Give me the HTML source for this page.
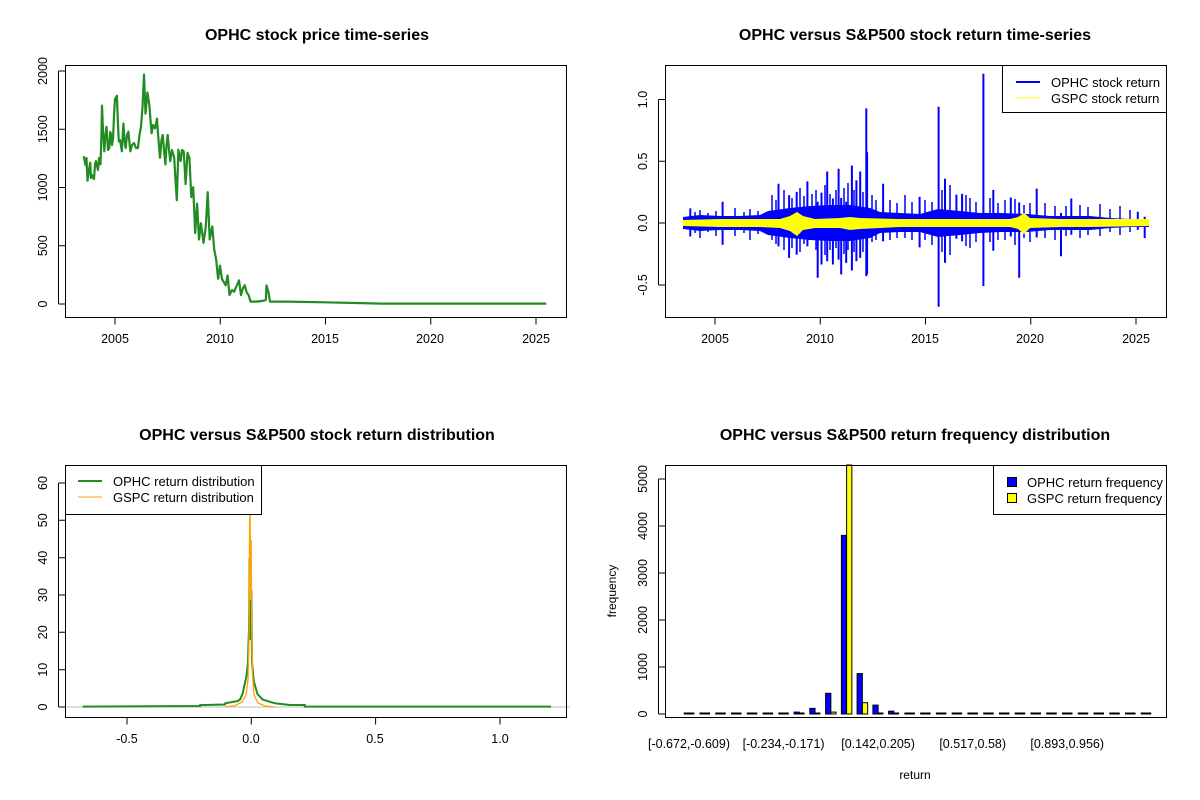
<!DOCTYPE html>
<html><head><meta charset="utf-8"><style>
html,body{margin:0;padding:0;background:#fff;}
svg{display:block;font-family:"Liberation Sans",Arial,sans-serif;}
</style></head><body>
<svg width="1200" height="800" viewBox="0 0 1200 800" xmlns="http://www.w3.org/2000/svg">
<rect width="1200" height="800" fill="#fff"/>
<g font-weight="bold" font-size="16" text-anchor="middle">
<text x="317" y="40">OPHC stock price time-series</text>
<text x="915" y="40">OPHC versus S&amp;P500 stock return time-series</text>
<text x="317" y="440">OPHC versus S&amp;P500 stock return distribution</text>
<text x="915" y="440">OPHC versus S&amp;P500 return frequency distribution</text>
</g>

<!-- TL price -->
<polyline fill="none" stroke="#228b22" stroke-width="2.2" stroke-linejoin="round" points="83.7,156.2 85.5,165 86.5,158 87.5,180.7 89,170 90.2,162.7 91,178 92,175 94,179.1 95,165 95.9,161.1 98,170 99,158 100.5,164.4 101.3,140 102,105.6 103,130 104.3,151.3 105.5,135 106.6,126.8 108,150 109.3,148 110.2,132 111.2,135 112,145 113.1,138.2 114,115 115,99 116.9,95.8 117.8,120 118.8,141.5 120,140 121.9,151.3 123.4,123.5 124.5,140 125.7,148 127,135 128.4,131.7 130.3,151.3 132,145 134.1,143.1 136,148 137.9,148 139.5,135 141,126.8 142.5,107.2 144,74.5 145.5,113.7 147.4,92.5 149.4,105.6 150.5,120 151.6,133.3 153,125 155.1,128.4 157,118.6 158.5,140 160,157.8 161.5,140 162.7,135 164,150 165.4,164.4 166.5,145 167.7,135 169,150 170.3,161.1 172,150 174.2,157.8 175.5,180 176.8,200.3 178.4,149.7 180.6,161.1 182,150 183.7,151.3 185.6,184 187.5,152.9 189.4,157.8 191.3,197.1 193.2,187.3 195.2,233 197.1,203.6 199,239.5 200.9,223.2 203.5,242.8 205.8,226.5 207.7,192.2 209.7,239.5 212.3,226.5 214.2,249.3 216.1,259.2 218.1,278.8 220,265.7 221.9,278.8 225.7,285.3 227.6,275.5 229.5,295.1 232,290 234.1,291.8 237,285 239,280.4 241,295.1 243,288 244.8,285.3 246.5,292 248.6,295.1 250.5,301.6 256.2,301.6 262,301 265.8,300 266.5,285.3 268.4,291.8 270,301.6 286.8,301.6 324.9,302.3 382.2,303.6 546.3,303.6"/>

<!-- TR returns -->
<polygon fill="#0000ff" points="683,217 700,215 720,216 740,216 760,215 768,211 790,208 810,206 830,205 850,205 870,208 880,212 900,213 920,214 938,209 960,211 980,213 1000,213 1027,214 1050,216 1070,216 1090,216 1110,218 1130,219 1149,219 1149,227 1130,227 1110,228 1090,230 1070,230 1050,230 1027,232 1000,232 980,233 960,235 938,237 920,232 900,232 880,233 870,238 850,241 830,241 810,240 790,238 768,235 760,231 740,230 720,230 700,231 683,229"/>
<path fill="none" stroke="#0000ff" stroke-width="2" d="M690.3 208.4V236.5M722.6 201.8V244.7M778.5 183.7V246.4M789.1 195.2V257.9M796.7 191.9V254.6M807.4 181.4V246.4M817.7 201.8V277.7M821.5 192.6V264.5M827.2 171.5V261.2M832.9 198.5V264.5M838.6 168.8V259.6M841.2 197.9V274.4M846.2 201.8V262.9M851.9 165.5V270.5M856.4 180.4V261.2M860.2 171.5V257.9M866.3 108.4V276.1M867.1 152.3V274.4M883.1 183.7V241.4M919.6 196.9V247.4M938.6 106.8V306.8M945 178.7V262.9M956.4 194.6V238.8M962.1 193.9V241.4M983.4 73.8V286M993.3 189.9V250.7M1010.8 197.5V236.5M1019.2 202.5V277.7M1036.7 188.6V237.5M1061 213V256.3M1071.3 198.5V234.8M1137.8 211.7V229.9M1144.7 216.7V238.1"/>
<path fill="none" stroke="#0000ff" stroke-width="1.5" d="M695 212V233M700 210V238M708 213V232M716 211V236M735 208V236M744 212V233M750 209V240M758 211V234M772 195V240M776 200V244M784 190V250M792 198V248M800 188V252M804 196V244M812 194V240M816 190V250M825 185V255M830 194V250M836 190V248M844 188V254M848 183V250M854 190V252M863 192V252M872 195V242M876 200V240M890 200V240M897 203V238M905 195V238M912 202V240M925 200V240M932 202V245M942 190V252M950 185V255M966 195V246M970 198V248M976 202V242M990 198V242M998 203V240M1005 200V240M1015 199V245M1024 205V238M1030 203V242M1045 203V238M1055 206V240M1066 206V236M1080 205V238M1088 207V235M1100 204V236M1110 209V232M1120 206V235M1130 210V232"/>
<polygon fill="#ffff00" points="683,220 720,219 760,219 780,219 790,216 797,212 803,216 815,219 840,218 850,217 860,218 900,219 960,219 1010,219 1018,217 1024,213 1030,218 1060,219 1090,219 1149,219 1149,226 1090,227 1060,227 1030,228 1024,234 1018,229 1010,227 960,227 900,227 860,229 850,230 840,228 815,228 803,230 797,236 790,231 780,228 760,227 720,227 683,226"/>

<!-- BL density -->
<line x1="65" y1="707" x2="570" y2="707" stroke="#bebebe" stroke-width="1"/>
<polyline fill="none" stroke="#228b22" stroke-width="2" points="82.7,706.6 200.2,706 200.2,705.1 225.1,704.5 225.1,703.3 237.6,701 240,699.5 242.5,694 246.3,677 248,662 248.6,640 249,629 249.3,600 249.5,558 250.1,640 250.5,576 251,617 251.4,590 252,662 253.7,681 257.5,694 262.5,699.5 274.9,703.3 290,705 304.8,705 304.8,706.6 551,706.6"/>
<polyline fill="none" stroke="#ffa500" stroke-width="1.3" points="225,707 235,705.5 242,702 246,695 248,680 249,640 249.6,520 250.2,513 250.6,600 251.2,540 251.6,620 252.5,675 254,695 258,703 265,706 275,707"/>

<!-- BR bars -->
<path stroke="#000" stroke-width="2" fill="none" d="M683.75 713.5h10.5M699.51 713.5h10.5M715.27 713.5h10.5M731.03 713.5h10.5M746.79 713.5h10.5M762.55 713.5h10.5M778.31 713.5h10.5M794.07 713.5h10.5M809.83 713.5h10.5M825.59 713.5h10.5M841.35 713.5h10.5M857.11 713.5h10.5M872.87 713.5h10.5M888.63 713.5h10.5M904.39 713.5h10.5M920.15 713.5h10.5M935.91 713.5h10.5M951.67 713.5h10.5M967.43 713.5h10.5M983.19 713.5h10.5M998.95 713.5h10.5M1014.71 713.5h10.5M1030.47 713.5h10.5M1046.23 713.5h10.5M1061.99 713.5h10.5M1077.75 713.5h10.5M1093.51 713.5h10.5M1109.27 713.5h10.5M1125.03 713.5h10.5M1140.79 713.5h10.5"/>
<g stroke="#000" stroke-width="1">
<rect x="809.8" y="708.4" width="5.25" height="5.6" fill="#0000ff"/>
<rect x="825.6" y="693.3" width="5.25" height="20.7" fill="#0000ff"/>
<rect x="830.8" y="712.1" width="5.25" height="1.9" fill="#ffff00"/>
<rect x="841.4" y="535.4" width="5.25" height="178.6" fill="#0000ff"/>
<rect x="846.6" y="465" width="5.25" height="249" fill="#ffff00"/>
<rect x="857.1" y="673.6" width="5.25" height="40.4" fill="#0000ff"/>
<rect x="862.4" y="702.7" width="5.25" height="11.3" fill="#ffff00"/>
<rect x="872.9" y="705.1" width="5.25" height="8.9" fill="#0000ff"/>
<rect x="888.6" y="711.2" width="5.25" height="2.8" fill="#0000ff"/>
<rect x="794.1" y="712.1" width="5.25" height="1.9" fill="#0000ff"/>
</g>

<!-- boxes -->
<g fill="none" stroke="#000" stroke-width="1">
<rect x="65.5" y="65.5" width="501" height="252"/>
<rect x="665.5" y="65.5" width="501" height="252"/>
<rect x="65.5" y="465.5" width="501" height="252"/>
<rect x="665.5" y="465.5" width="501" height="252"/>
</g>

<!-- axes -->
<g stroke="#000" stroke-width="1" fill="none">
<path d="M115 317.5H536M115 317.5v7M220.25 317.5v7M325.5 317.5v7M430.75 317.5v7M536 317.5v7"/>
<path d="M715 317.5H1136M715 317.5v7M820.25 317.5v7M925.5 317.5v7M1030.75 317.5v7M1136 317.5v7"/>
<path d="M58.5 71V304M58.5 304h7M58.5 245.75h7M58.5 187.5h7M58.5 129.25h7M58.5 71h7"/>
<path d="M658.5 99.5V285M658.5 99.5h7M658.5 161.25h7M658.5 223h7M658.5 285h7"/>
<path d="M127 717.5H500M127 717.5v7M251.3 717.5v7M375.6 717.5v7M500 717.5v7"/>
<path d="M58.5 483V707M58.5 707h7M58.5 669.7h7M58.5 632.3h7M58.5 595h7M58.5 557.7h7M58.5 520.3h7M58.5 483h7"/>
<path d="M658.5 479V714M658.5 714h7M658.5 667h7M658.5 620h7M658.5 573h7M658.5 526h7M658.5 479h7"/>
</g>
<g font-size="12.5" text-anchor="middle" fill="#000">
<text x="115" y="343">2005</text><text x="220" y="343">2010</text><text x="325" y="343">2015</text><text x="430" y="343">2020</text><text x="536" y="343">2025</text>
<text x="715" y="343">2005</text><text x="820" y="343">2010</text><text x="925" y="343">2015</text><text x="1030" y="343">2020</text><text x="1136" y="343">2025</text>
<text transform="translate(47,304) rotate(-90)">0</text>
<text transform="translate(47,245.75) rotate(-90)">500</text>
<text transform="translate(47,187.5) rotate(-90)">1000</text>
<text transform="translate(47,129.25) rotate(-90)">1500</text>
<text transform="translate(47,71) rotate(-90)">2000</text>
<text transform="translate(647,99.5) rotate(-90)">1.0</text>
<text transform="translate(647,161.25) rotate(-90)">0.5</text>
<text transform="translate(647,223) rotate(-90)">0.0</text>
<text transform="translate(647,285) rotate(-90)">-0.5</text>
<text x="127" y="743">-0.5</text><text x="251" y="743">0.0</text><text x="375" y="743">0.5</text><text x="500" y="743">1.0</text>
<text transform="translate(47,707) rotate(-90)">0</text>
<text transform="translate(47,669.7) rotate(-90)">10</text>
<text transform="translate(47,632.3) rotate(-90)">20</text>
<text transform="translate(47,595) rotate(-90)">30</text>
<text transform="translate(47,557.7) rotate(-90)">40</text>
<text transform="translate(47,520.3) rotate(-90)">50</text>
<text transform="translate(47,483) rotate(-90)">60</text>
<text transform="translate(647,714) rotate(-90)">0</text>
<text transform="translate(647,667) rotate(-90)">1000</text>
<text transform="translate(647,620) rotate(-90)">2000</text>
<text transform="translate(647,573) rotate(-90)">3000</text>
<text transform="translate(647,526) rotate(-90)">4000</text>
<text transform="translate(647,479) rotate(-90)">5000</text>
<text transform="translate(616,591) rotate(-90)" font-size="12">frequency</text>
<text x="915" y="779" font-size="12">return</text>
<text x="689" y="748">[-0.672,-0.609)</text>
<text x="783.6" y="748">[-0.234,-0.171)</text>
<text x="878.1" y="748">[0.142,0.205)</text>
<text x="972.7" y="748">[0.517,0.58)</text>
<text x="1067.2" y="748">[0.893,0.956)</text>
</g>

<!-- legends -->
<g font-size="13">
<rect x="1002.5" y="65.5" width="164" height="47" fill="#fff" stroke="#000"/>
<line x1="1016" y1="82" x2="1040" y2="82" stroke="#0000ff" stroke-width="2"/>
<line x1="1016" y1="98" x2="1040" y2="98" stroke="#ffff00" stroke-width="1"/>
<text x="1051" y="87">OPHC stock return</text>
<text x="1051" y="103">GSPC stock return</text>

<rect x="65.5" y="465.5" width="196" height="49" fill="#fff" stroke="#000"/>
<line x1="78" y1="481" x2="102" y2="481" stroke="#228b22" stroke-width="2"/>
<line x1="78" y1="497" x2="102" y2="497" stroke="#ffa500" stroke-width="1"/>
<text x="113" y="486">OPHC return distribution</text>
<text x="113" y="502">GSPC return distribution</text>

<rect x="993.5" y="465.5" width="173" height="49" fill="#fff" stroke="#000"/>
<rect x="1007.5" y="477.5" width="9" height="9" fill="#0000ff" stroke="#000"/>
<rect x="1007.5" y="493.5" width="9" height="9" fill="#ffff00" stroke="#000"/>
<text x="1027" y="487">OPHC return frequency</text>
<text x="1027" y="503">GSPC return frequency</text>
</g>
</svg>
</body></html>
